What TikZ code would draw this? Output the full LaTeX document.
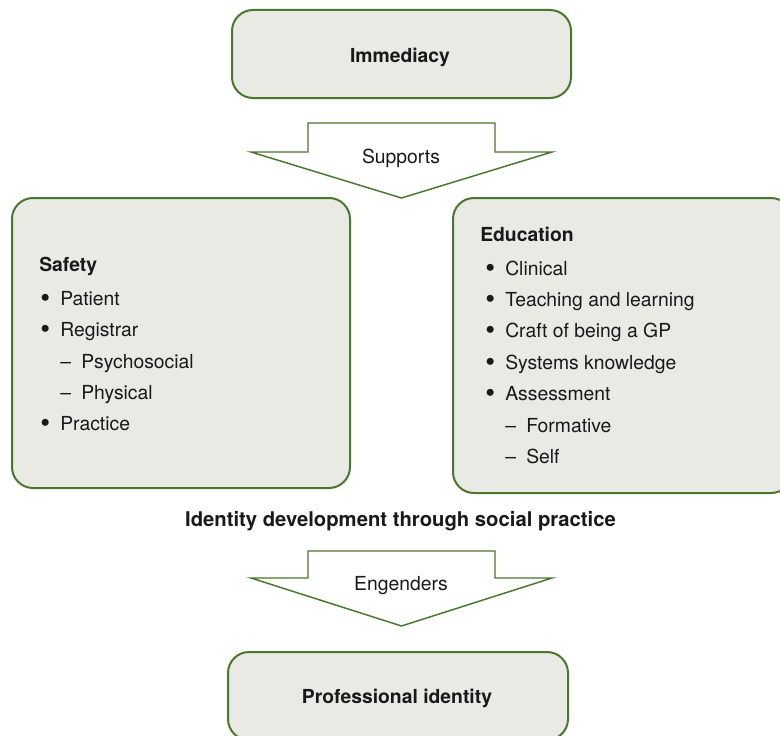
\documentclass[tikz,border=0pt]{standalone}
\usepackage{fontspec}
\setmainfont{TeX Gyre Heros}
\definecolor{stroke}{RGB}{75,118,45}
\definecolor{boxfill}{RGB}{232,234,227}
\newcommand\mybul{\makebox[15pt][l]{\raisebox{-1.6pt}{\scalebox{1.45}{•}}}}
\newcommand\mydash{\hspace{15pt}\makebox[15.75pt][l]{–}}
\begin{document}
\begin{tikzpicture}[x=0.75pt,y=-0.75pt,
  box/.style={draw=stroke, fill=boxfill, line width=1.5pt, rounded corners=15.75pt, inner sep=0pt},
  blockarrow/.style={draw=stroke, fill=white, line width=1.1pt, line join=miter},
  txt/.style={font=\fontsize{14.5pt}{17pt}\selectfont, inner sep=0pt, anchor=base west, text=black!90},
  hd/.style={txt, font=\fontsize{14.5pt}{17pt}\selectfont\bfseries},
  ctr/.style={anchor=base}]
\useasboundingbox (0,0) rectangle (780,735);
\clip (0,0) rectangle (780,735);

% boxes
\node[box, minimum width=254.25pt, minimum height=66pt] (immbox) at (401.5,54) {};
\node[box, minimum width=253.5pt, minimum height=217.5pt] (safbox) at (181,343) {};
\node[box, minimum width=254.25pt, minimum height=221.25pt] (edubox) at (622.5,345.5) {};
\node[box, minimum width=255pt, minimum height=66pt] (probox) at (398,696) {};

% block arrows
\draw[blockarrow] (308,123) -- (495,123) -- (495,152) -- (552,152) -- (401.5,198) -- (251,152) -- (308,152) -- cycle;
\draw[blockarrow] (308,551) -- (495,551) -- (495,578) -- (552,578) -- (401.5,626) -- (251,578) -- (308,578) -- cycle;

% titles
\node[hd, ctr] (imm) at (400,62.5) {Immediacy};
\node[txt, ctr] (sup) at (401,163) {Supports};
\node[hd, ctr, font=\fontsize{15.2pt}{18pt}\selectfont\bfseries] (idev) at (400.5,526.5) {Identity development through social practice};
\node[txt, ctr] (eng) at (401,590) {Engenders};
\node[hd, ctr] (pro) at (397,703) {Professional identity};

% safety
\node[hd] (saf) at (39,271) {Safety};
\node[txt] (s1) at (40,305) {\mybul Patient};
\node[txt] (s2) at (40,336.5) {\mybul Registrar};
\node[txt] (s3) at (40,368) {\mydash Psychosocial};
\node[txt] (s4) at (40,399) {\mydash Physical};
\node[txt] (s5) at (40,430.5) {\mybul Practice};

% education
\node[hd] (edu) at (480,241.5) {Education};
\node[txt] (e1) at (485,275) {\mybul Clinical};
\node[txt] (e2) at (485,306.4) {\mybul Teaching and learning};
\node[txt] (e3) at (485,337.8) {\mybul Craft of being a GP};
\node[txt] (e4) at (485,369.2) {\mybul Systems knowledge};
\node[txt] (e5) at (485,400.6) {\mybul Assessment};
\node[txt] (e6) at (485,432) {\mydash Formative};
\node[txt] (e7) at (485,463.4) {\mydash Self};
\end{tikzpicture}
\end{document}
